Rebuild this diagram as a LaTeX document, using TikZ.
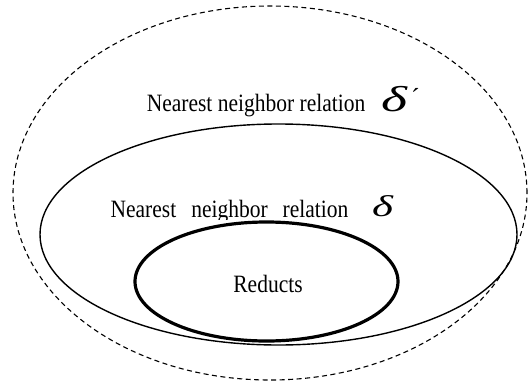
\documentclass[tikz,border=0pt]{standalone}
\usepackage{fontspec}
\setmainfont{Liberation Serif}
\usetikzlibrary{shapes.geometric}
\newcommand{\tallword}[1]{\scalebox{1}[1.16]{#1}}
\begin{document}
\begin{tikzpicture}
          [x=1pt,y=-1pt,
          set/.style={shape=ellipse,draw=black,inner sep=0pt},
          setlabel/.style={font=\fontsize{21.5}{26}\selectfont,anchor=base,inner sep=0pt},
          greek/.style={font=\itshape,anchor=base west,inner sep=0pt}]

            \useasboundingbox (0,0) rectangle (530,383);
            \node (outer) [set,line width=1.1pt,dash pattern=on 5pt off 3.5pt,minimum width=514pt,minimum height=374pt] at (270,193) {};
            \node (middle) [set,line width=1.4pt,minimum width=477pt,minimum height=221pt] at (278.5,234.5) {};
            \node (inner) [set,line width=3.2pt,minimum width=263pt,minimum height=119pt] at (266.5,281.5) {};

            \node (outerlabel) [setlabel] at (256,111) {\tallword{Nearest neighbor relation}};
            \node (outerdelta) [greek] at (381,111) {\fontsize{36}{36}\selectfont\scalebox{1.55}[1]{δ}\hspace{4pt}{\fontsize{26}{26}\selectfont\upshape\raisebox{5pt}{´}}};
            \begin{scope}
              \clip (100,190) rectangle (360,219);
              \node (middlelabel) [setlabel] at (229.5,217) {\tallword{Nearest\hspace{15pt}neighbor\hspace{15pt}relation}};
            \end{scope}
            \node (middledelta) [greek] at (372,216) {\fontsize{30}{30}\selectfont\scalebox{1.5}[1]{δ}};
            \node (innerlabel) [setlabel] at (268,292) {\tallword{Reducts}};

        \end{tikzpicture}
\end{document}
